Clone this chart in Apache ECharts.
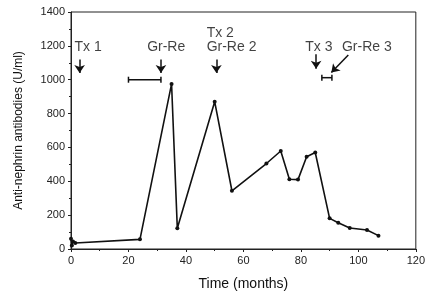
<!DOCTYPE html>
<html>
<head>
<meta charset="utf-8">
<script src="https://cdn.jsdelivr.net/npm/echarts@6/dist/echarts.min.js"></script>
<style>
  html, body { margin: 0; padding: 0; background: #fff; }
  #chart { width: 428px; height: 297px; }
</style>
</head>
<body>
<div id="chart"></div>
<script>
// antibody levels over time
const months = [0, 0.3, 0.7, 1.5, 24, 35, 37, 50, 56, 68, 73, 76, 79, 82, 85, 90, 93, 97, 103, 107];
const antibodies = [60, 20, 45, 35, 57, 975, 122, 870, 344, 505, 579, 412, 410, 545, 570, 181, 155, 124, 112, 79];

// event labels [month, value, text]
const eventLabels = [
    [1.2, 1191, 'Tx 1'],
    [26.5, 1191, 'Gr-Re'],
    [47.2, 1276, 'Tx 2'],
    [47.2, 1191, 'Gr-Re 2'],
    [81.5, 1191, 'Tx 3'],
    [94.3, 1191, 'Gr-Re 3']
];
// arrows [fromX, fromY, toX, toY]
const eventArrows = [
    [3, 1120, 3, 1040],
    [31.3, 1120, 31.3, 1040],
    [50.6, 1120, 50.6, 1040],
    [85.3, 1150, 85.3, 1065],
    [96.5, 1146, 90.6, 1042]
];
// horizontal ranges [from, to, value]
const ranges = [
    [20, 31.3, 1000],
    [87.3, 90.8, 1012]
];

const font = 'Liberation Sans, Arial, sans-serif';
const chart = echarts.init(document.getElementById('chart'));

chart.setOption({
    animation: false,
    grid: {
        left: 71, right: 10, top: 12, bottom: 48,
        show: true, borderColor: '#222', borderWidth: 1
    },
    xAxis: {
        type: 'value', min: 0, max: 120, interval: 20,
        name: 'Time (months)', nameLocation: 'middle', nameGap: 28,
        nameTextStyle: { fontFamily: font, fontSize: 14, color: '#111' },
        axisLine: { lineStyle: { color: '#222' } },
        axisTick: { length: 3, lineStyle: { color: '#222' } },
        minorTick: { show: true, splitNumber: 2, length: 2, lineStyle: { color: '#222' } },
        axisLabel: { fontFamily: font, fontSize: 11, color: '#222', margin: 6 },
        splitLine: { show: false }
    },
    yAxis: {
        type: 'value', min: 0, max: 1400, interval: 200,
        name: 'Anti-nephrin antibodies (U/ml)', nameLocation: 'middle', nameGap: 46,
        nameTextStyle: { fontFamily: font, fontSize: 12, color: '#111' },
        axisLine: { show: true, lineStyle: { color: '#222' } },
        axisTick: { show: true, length: 3, lineStyle: { color: '#222' } },
        minorTick: { show: true, splitNumber: 2, length: 2, lineStyle: { color: '#222' } },
        axisLabel: { fontFamily: font, fontSize: 11, color: '#222', margin: 6, formatter: v => String(v) },
        splitLine: { show: false }
    },
    series: [
        {
            type: 'line',
            data: months.map((m, i) => [m, antibodies[i]]),
            symbol: 'circle', symbolSize: 4,
            lineStyle: { color: '#111', width: 1.6 },
            itemStyle: { color: '#111' }
        },
        {
            type: 'scatter',
            data: eventLabels,
            symbolSize: 0,
            label: {
                show: true, position: 'right', distance: 0,
                formatter: p => p.data[2],
                fontFamily: font, fontSize: 14, color: '#111'
            },
            z: 5
        },
        {
            type: 'custom',
            data: ranges,
            renderItem: function (params, api) {
                const a = api.coord([api.value(0), api.value(2)]);
                const b = api.coord([api.value(1), api.value(2)]);
                const style = { stroke: '#111', lineWidth: 1.5 };
                return {
                    type: 'group',
                    children: [
                        { type: 'line', shape: { x1: a[0], y1: a[1], x2: b[0], y2: b[1] }, style },
                        { type: 'line', shape: { x1: a[0], y1: a[1] - 3, x2: a[0], y2: a[1] + 3 }, style },
                        { type: 'line', shape: { x1: b[0], y1: b[1] - 3, x2: b[0], y2: b[1] + 3 }, style }
                    ]
                };
            }
        },
        {
            type: 'lines',
            coordinateSystem: 'cartesian2d',
            data: eventArrows.map(d => ({ coords: [[d[0], d[1]], [d[2], d[3]]] })),
            symbol: ['none', 'arrow'],
            symbolSize: 8,
            lineStyle: { color: '#111', width: 1.5, opacity: 1 },
            z: 4
        }
    ]
});
</script>
</body>
</html>
